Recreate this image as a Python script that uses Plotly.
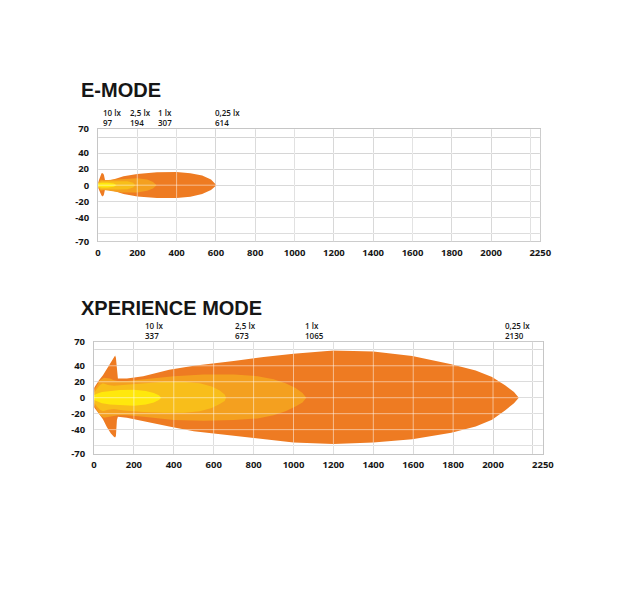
import plotly.graph_objects as go

# ---------------- data ----------------
em_lux = ["10 lx", "2,5 lx", "1 lx", "0,25 lx"]
em_dist = ["97", "194", "307", "614"]
xp_lux = ["10 lx", "2,5 lx", "1 lx", "0,25 lx"]
xp_dist = ["337", "673", "1065", "2130"]

x_tickvals = [0, 200, 400, 600, 800, 1000, 1200, 1400, 1600, 1800, 2000, 2200, 2250]
x_ticktext = ["0", "200", "400", "600", "800", "1000", "1200", "1400", "1600", "1800", "2000", "", "2250"]
y_tickvals = [-70, -60, -40, -20, 0, 20, 40, 60, 70]
y_ticktext = ["-70", "", "-40", "-20", "0", "20", "40", "", "70"]

# E-MODE isolux outlines: distance (m), upper edge (m), lower edge (m)
em_025_x = [0, 10, 18, 25, 30, 36, 60, 90, 130, 200, 300, 400, 470, 530, 575, 603]
em_025_up = [3, 9, 15, 15, 13, 6, 6, 8, 11, 14, 16, 16.5, 15, 12, 7, 0]
em_025_lo = [-3, -8, -13, -14, -12, -5, -6, -8, -11, -14, -16, -16, -14.5, -11, -6, 0]

em_1_x = [0, 15, 30, 60, 120, 200, 250, 280, 298]
em_1_up = [3, 7, 6, 6.5, 8, 8.5, 7, 4, 0]
em_1_lo = [-3, -7, -6, -7, -9, -9, -7, -4, 0]

em_25_x = [0, 15, 40, 100, 150, 178, 190]
em_25_up = [2.5, 5, 5, 5.5, 5, 3, 0]
em_25_lo = [-2.5, -5, -5, -5.5, -5, -3, 0]

em_10_x = [0, 20, 50, 80, 95]
em_10_up = [2, 3, 3, 2, 0]
em_10_lo = [-2, -3, -3, -2, 0]

# XPERIENCE MODE isolux outlines
xp_025_x = [0, 10, 25, 45, 65, 85, 100, 106, 110, 115, 120, 165, 247, 377, 500, 700, 850,
            1000, 1200, 1400, 1595, 1791, 1913, 1995, 2060, 2105, 2129]
xp_025_up = [12, 16, 22, 28, 36, 44, 50, 53, 50, 30, 24, 24, 27, 35, 40, 46, 51,
             55, 59, 58, 52.3, 42, 34, 26, 15.5, 7, 0]
xp_025_lo = [-12, -15, -20, -27, -37, -45, -49, -50, -48, -28, -24, -25, -29, -36, -42, -48, -52,
             -56, -58, -56, -52, -44, -36, -27.5, -16, -7, 0]

xp_1_x = [0, 15, 30, 50, 80, 100, 120, 165, 250, 400, 550, 700, 820, 900, 960, 1010, 1045, 1064]
xp_1_up = [9, 16, 22, 25, 24, 22, 21, 21, 23, 27, 29, 29, 27, 23, 18, 12, 6, 0]
xp_1_lo = [-9, -16, -22, -25, -24, -23, -22, -22, -24, -28, -29, -28, -26, -22, -17, -11, -6, 0]

xp_25_x = [0, 15, 30, 45, 70, 100, 150, 250, 350, 450, 530, 590, 630, 655, 662]
xp_25_up = [6, 11, 16, 18, 16, 15, 16, 18, 20, 20, 18, 14, 9, 4, 0]
xp_25_lo = [-6, -11, -15, -17, -15, -14, -16, -18, -19, -19, -17, -13, -8, -4, 0]

xp_10_x = [0, 15, 40, 80, 130, 200, 260, 300, 325, 337]
xp_10_up = [3, 5, 7, 8.5, 9.5, 10, 8.5, 6, 3, 0]
xp_10_lo = [-3, -5, -7, -8.5, -9.5, -10, -8.5, -6, -3, 0]

# ---------------- style ----------------
W, H = 640, 604
C_025 = "#EE7B22"
C_1 = "#F4A01F"
C_25 = "#F8BE1A"
C_10 = "#FFE80C"
GRID = "#c6c6c6"
OVER = "rgba(255,255,255,0.5)"
TXT = "#161616"

em_label_px = [100.7, 127.3, 156.0, 215.0]
xp_label_px = [143.3, 235.0, 306.7, 510.7]


def poly(xs, up, lo):
    return list(xs) + list(xs)[::-1], list(up) + list(lo)[::-1]


fig = go.Figure()

em_sets = [(em_025_x, em_025_up, em_025_lo, C_025), (em_1_x, em_1_up, em_1_lo, C_1),
           (em_25_x, em_25_up, em_25_lo, C_25), (em_10_x, em_10_up, em_10_lo, C_10)]
xp_sets = [(xp_025_x, xp_025_up, xp_025_lo, C_025), (xp_1_x, xp_1_up, xp_1_lo, C_1),
           (xp_25_x, xp_25_up, xp_25_lo, C_25), (xp_10_x, xp_10_up, xp_10_lo, C_10)]

for (xs, up, lo, col) in em_sets:
    px_, py_ = poly(xs, up, lo)
    fig.add_trace(go.Scatter(x=px_, y=py_, fill="toself", fillcolor=col, mode="lines",
                             line=dict(width=0, color=col), hoverinfo="skip",
                             xaxis="x", yaxis="y"))
for (xs, up, lo, col) in xp_sets:
    px_, py_ = poly(xs, up, lo)
    fig.add_trace(go.Scatter(x=px_, y=py_, fill="toself", fillcolor=col, mode="lines",
                             line=dict(width=0, color=col), hoverinfo="skip",
                             xaxis="x2", yaxis="y2"))

tickfont = dict(family="Open Sans", size=9.5, color=TXT, weight="bold")
xcommon = dict(range=[0, 2250], tickvals=x_tickvals, ticktext=x_ticktext, showgrid=True,
               gridcolor=GRID, gridwidth=1, zeroline=False, showline=True, mirror=True,
               linecolor=GRID, linewidth=1, ticks="", tickfont=tickfont, ticklabelstandoff=2,
               fixedrange=True)
ycommon = dict(range=[-70, 70], tickvals=y_tickvals, ticktext=y_ticktext, showgrid=True,
               gridcolor=GRID, gridwidth=1, zeroline=False, showline=True, mirror=True,
               linecolor=GRID, linewidth=1, ticks="", tickfont=tickfont, ticklabelstandoff=6,
               fixedrange=True)

fig.update_layout(
    width=W, height=H, margin=dict(l=0, r=0, t=0, b=0),
    paper_bgcolor="white", plot_bgcolor="white", showlegend=False,
    xaxis=dict(domain=[97.1 / W, 549.3 / W], anchor="y", **xcommon),
    yaxis=dict(domain=[1 - 239.5 / H, 1 - 124.7 / H], anchor="x", **ycommon),
    xaxis2=dict(domain=[93.0 / W, 552.0 / W], anchor="y2", **xcommon),
    yaxis2=dict(domain=[1 - 456.4 / H, 1 - 342.2 / H], anchor="x2", **ycommon),
)

# grid lines drawn over the beams (lighter)
shapes = []
for xr, yr in [("x", "y"), ("x2", "y2")]:
    for v in x_tickvals:
        shapes.append(dict(type="line", xref=xr, yref=yr + " domain", x0=v, x1=v, y0=0, y1=1,
                           layer="above", line=dict(color=OVER, width=1)))
    for v in y_tickvals:
        shapes.append(dict(type="line", xref=xr + " domain", yref=yr, x0=0, x1=1, y0=v, y1=v,
                           layer="above", line=dict(color=OVER, width=1)))
fig.update_layout(shapes=shapes)

ann = []
titlefont = dict(family="Liberation Sans", size=20, color=TXT, weight="bold")
ann.append(dict(text="E-MODE", x=78 / W, y=1 - 85 / H, xref="paper", yref="paper",
                xanchor="left", yanchor="middle", showarrow=False, font=titlefont))
ann.append(dict(text="XPERIENCE MODE", x=78 / W, y=1 - 307.5 / H, xref="paper", yref="paper",
                xanchor="left", yanchor="middle", showarrow=False, font=titlefont))

lblfont = dict(family="Open Sans", size=8, color=TXT, weight=600)
for labels, dists, pxs, yc in [(em_lux, em_dist, em_label_px, 112.5),
                               (xp_lux, xp_dist, xp_label_px, 330.5)]:
    for lab, d, p in zip(labels, dists, pxs):
        ann.append(dict(text=lab + "<br>" + d, x=p / W, y=1 - yc / H, xref="paper", yref="paper",
                        xanchor="left", yanchor="middle", align="left", showarrow=False,
                        font=lblfont))
fig.update_layout(annotations=ann)

fig.write_html("out.html")
